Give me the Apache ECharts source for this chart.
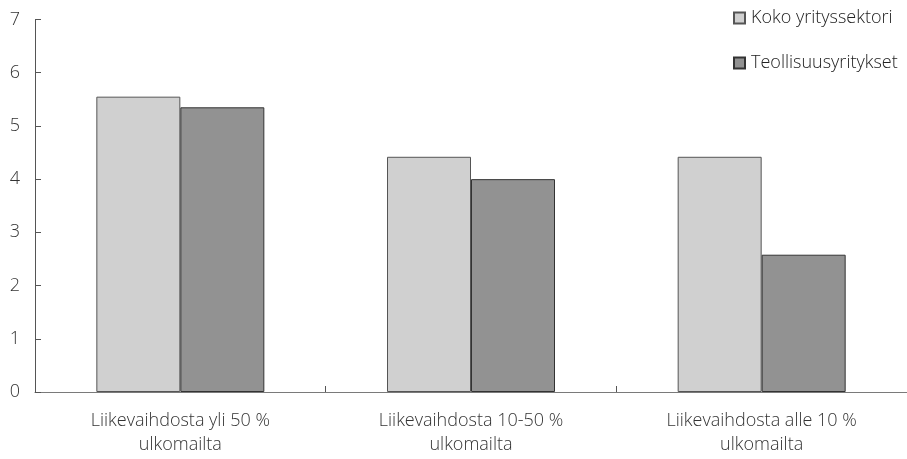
<!DOCTYPE html>
<html>
<head>
<meta charset="utf-8">
<script src="https://cdn.jsdelivr.net/npm/echarts@6/dist/echarts.min.js"></script>
<style>
  html, body { margin: 0; padding: 0; background: #fff; }
  #chart { width: 907px; height: 459px; }
</style>
</head>
<body>
<div id="chart"></div>
<script>
// Categories and values
const categories = [
  'Liikevaihdosta yli 50 %\nulkomailta',
  'Liikevaihdosta 10-50 %\nulkomailta',
  'Liikevaihdosta alle 10 %\nulkomailta'
];
const seriesNames = ['Koko yrityssektori', 'Teollisuusyritykset'];
const kokoValues = [5.55, 4.42, 4.42];
const teollisuusValues = [5.35, 4.0, 2.58];
const yTicks = [0, 1, 2, 3, 4, 5, 6, 7];

const FONT = '"Open Sans", "Noto Sans", sans-serif';

const chart = echarts.init(document.getElementById('chart'), null, { renderer: 'canvas' });

chart.setOption({
  animation: false,
  backgroundColor: '#ffffff',
  grid: { left: 35, right: -4, top: 19.5, bottom: 67, containLabel: false },
  legend: {
    orient: 'vertical',
    left: 733,
    top: 8,
    padding: 0,
    itemWidth: 11,
    itemHeight: 11,
    itemGap: 25,
    icon: 'rect',
    textStyle: { fontFamily: FONT, fontSize: 18, fontWeight: 300, color: '#222', lineHeight: 20, padding: [0, 0, 0, 1] },
    data: seriesNames
  },
  xAxis: {
    type: 'category',
    data: categories,
    axisLine: { lineStyle: { color: '#7a7a7a', width: 1 } },
    axisTick: { show: true, inside: true, length: 6, alignWithLabel: false, lineStyle: { color: '#555' } },
    axisLabel: { fontFamily: FONT, fontSize: 18, fontWeight: 300, color: '#333', margin: 17, lineHeight: 24 }
  },
  yAxis: {
    type: 'value',
    min: yTicks[0],
    max: yTicks[yTicks.length - 1],
    interval: 1,
    splitLine: { show: false },
    axisLine: { show: true, lineStyle: { color: '#555', width: 1 } },
    axisTick: { show: true, inside: true, length: 6, lineStyle: { color: '#555' } },
    axisLabel: { fontFamily: FONT, fontSize: 18, fontWeight: 300, color: '#333', margin: 15 }
  },
  series: [
    {
      name: seriesNames[0],
      type: 'bar',
      data: kokoValues,
      barWidth: 84,
      barGap: '0%',
      itemStyle: { color: '#d0d0d0', borderColor: '#555', borderWidth: 1 }
    },
    {
      name: seriesNames[1],
      type: 'bar',
      data: teollisuusValues,
      barWidth: 84,
      barGap: '0%',
      itemStyle: { color: '#929292', borderColor: '#333', borderWidth: 1 }
    }
  ]
});
</script>
</body>
</html>
